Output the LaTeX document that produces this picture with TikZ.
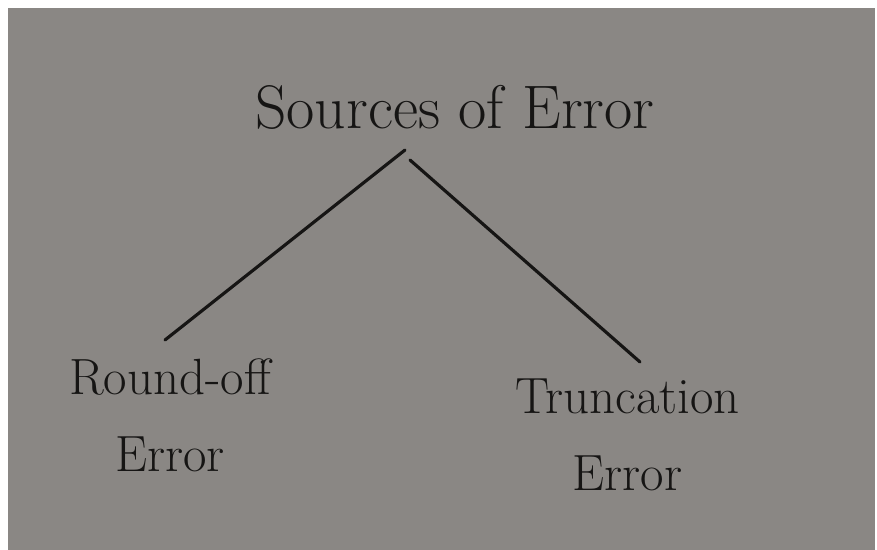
\documentclass[tikz,border=0pt]{standalone}
\usepackage{tikz}
\usetikzlibrary{calc,positioning}
\definecolor{boardGray}{HTML}{8A8784}
\definecolor{inkBlack}{HTML}{161514}

\begin{document}
\begin{tikzpicture}[
  lbl/.style={text=inkBlack,align=center,inner sep=0pt,
              font=\fontsize{29}{44}\selectfont},
  ln/.style={draw=inkBlack,line width=1.8pt,line cap=round}]
  \useasboundingbox (0,0) rectangle (17.54,-11);
  \fill[boardGray] (0.16,-0.16) rectangle (17.50,-11);
  \node[lbl,font=\fontsize{35}{42}\selectfont] (src) at (9.1,-2.15) {Sources of Error};
  \node[lbl] (rnd) at (3.4,-8.3) {Round-off\\Error};
  \node[lbl] (trc) at (12.55,-8.7) {Truncation\\Error};
  % branch ends
  \coordinate (srcL) at (8.1,-3.0);
  \coordinate (srcR) at (8.2,-3.2);
  \coordinate (rndT) at (3.3,-6.8);
  \coordinate (trcT) at (12.8,-7.24);
  \draw[ln] (srcL)--(rndT);\draw[ln] (srcR)--(trcT);
\end{tikzpicture}
\end{document}
